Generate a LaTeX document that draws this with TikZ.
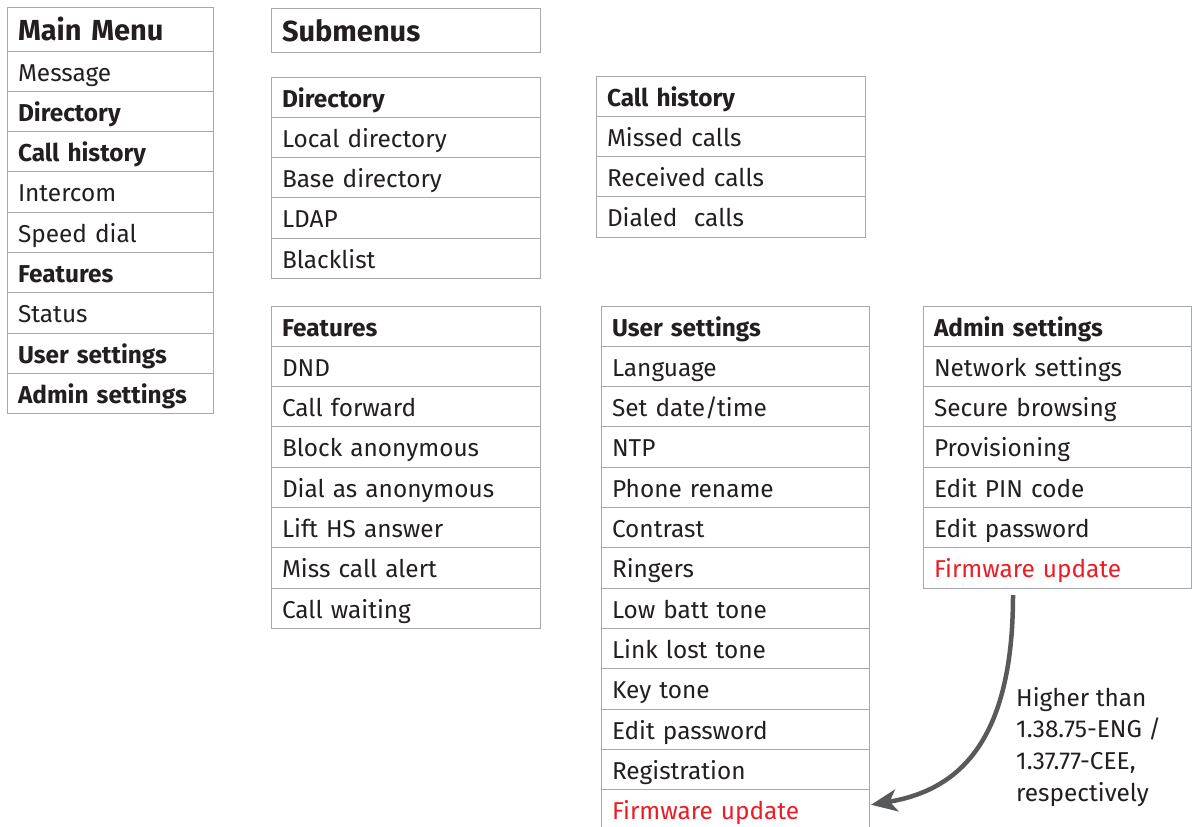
\documentclass[tikz,border=0pt]{standalone}
\usepackage{fontspec}
\setmainfont{Fira Sans}
\usetikzlibrary{arrows.meta, positioning}
\definecolor{inkgray}{HTML}{231F20}
\definecolor{rulegray}{HTML}{A7A9AC}
\definecolor{fwred}{HTML}{ED1C24}
\definecolor{arrowgray}{HTML}{58595B}

\begin{document}
\begin{tikzpicture}[x=1pt, y=-1pt,
  >={Stealth[length=26pt, width=22pt, inset=7pt]},
  cell/.style={draw=rulegray, line width=1pt, anchor=north west, outer sep=0pt, inner xsep=11pt, inner ysep=0pt, text width=247pt, minimum height=40.3pt, text height=24pt, text depth=4.3pt, align=left, font=\fontsize{24.4}{28}\selectfont, text=inkgray},
  narrow/.style={text width=184pt},
  bold/.style={font=\fontsize{24.4}{28}\selectfont\bfseries},
  titlecell/.style={cell, minimum height=44pt, text height=28pt, font=\fontsize{29}{33}\selectfont\bfseries},
  note/.style={font=\fontsize{24.4}{31.6}\selectfont, text=inkgray, align=left, inner sep=0pt},
]

% Frame of the page
\useasboundingbox (0,0) rectangle (1192,827);

% Main menu
\node[titlecell, narrow] (mm) at (7,7) {Main Menu};
\node[cell, narrow, below=0pt of mm] (mm1) {Message};
\node[cell, narrow, bold, below=0pt of mm1] (mm2) {Directory};
\node[cell, narrow, bold, below=0pt of mm2] (mm3) {Call history};
\node[cell, narrow, below=0pt of mm3] (mm4) {Intercom};
\node[cell, narrow, below=0pt of mm4] (mm5) {Speed dial};
\node[cell, narrow, bold, below=0pt of mm5] (mm6) {Features};
\node[cell, narrow, below=0pt of mm6] (mm7) {Status};
\node[cell, narrow, bold, below=0pt of mm7] (mm8) {User settings};
\node[cell, narrow, bold, below=0pt of mm8] (mm9) {Admin settings};

% Submenus title
\node[titlecell] (sub) at (271,8) {Submenus};

% Directory
\node[cell, bold] (dir) at (271,77) {Directory};
\node[cell, below=0pt of dir] (dir1) {Local directory};
\node[cell, below=0pt of dir1] (dir2) {Base directory};
\node[cell, below=0pt of dir2] (dir3) {LDAP};
\node[cell, below=0pt of dir3] (dir4) {Blacklist};

% Call history
\node[cell, bold] (ch) at (596,76) {Call history};
\node[cell, below=0pt of ch] (ch1) {Missed calls};
\node[cell, below=0pt of ch1] (ch2) {Received calls};
\node[cell, below=0pt of ch2] (ch3) {Dialed\ \ calls};

% Features
\node[cell, bold] (ft) at (271,306) {Features};
\node[cell, below=0pt of ft] (ft1) {DND};
\node[cell, below=0pt of ft1] (ft2) {Call forward};
\node[cell, below=0pt of ft2] (ft3) {Block anonymous};
\node[cell, below=0pt of ft3] (ft4) {Dial as anonymous};
\node[cell, below=0pt of ft4] (ft5) {Lift HS answer};
\node[cell, below=0pt of ft5] (ft6) {Miss call alert};
\node[cell, below=0pt of ft6] (ft7) {Call waiting};

% User settings
\node[cell, bold, text width=246pt] (us) at (601,306) {User settings};
\node[cell, text width=246pt, below=0pt of us] (us1) {Language};
\node[cell, text width=246pt, below=0pt of us1] (us2) {Set date/time};
\node[cell, text width=246pt, below=0pt of us2] (us3) {NTP};
\node[cell, text width=246pt, below=0pt of us3] (us4) {Phone rename};
\node[cell, text width=246pt, below=0pt of us4] (us5) {Contrast};
\node[cell, text width=246pt, below=0pt of us5] (us6) {Ringers};
\node[cell, text width=246pt, below=0pt of us6] (us7) {Low batt tone};
\node[cell, text width=246pt, below=0pt of us7] (us8) {Link lost tone};
\node[cell, text width=246pt, below=0pt of us8] (us9) {Key tone};
\node[cell, text width=246pt, below=0pt of us9] (us10) {Edit password};
\node[cell, text width=246pt, below=0pt of us10] (us11) {Registration};
\node[cell, text width=246pt, text=fwred, below=0pt of us11] (us12) {Firmware update};

% Admin settings
\node[cell, bold, text width=246pt] (ad) at (923,306) {Admin settings};
\node[cell, text width=246pt, below=0pt of ad] (ad1) {Network settings};
\node[cell, text width=246pt, below=0pt of ad1] (ad2) {Secure browsing};
\node[cell, text width=246pt, below=0pt of ad2] (ad3) {Provisioning};
\node[cell, text width=246pt, below=0pt of ad3] (ad4) {Edit PIN code};
\node[cell, text width=246pt, below=0pt of ad4] (ad5) {Edit password};
\node[cell, text width=246pt, text=fwred, below=0pt of ad5] (ad6) {Firmware update};

% Firmware arrow and its note
\coordinate (fwsrc) at ([xshift=-44pt, yshift=-7pt]ad6.south);
\draw[arrowgray, line width=4.5pt, ->] (fwsrc) .. controls (1013,740) and (960,790) .. ([xshift=2pt, yshift=5pt]us12.east);
\node[note, anchor=north west] (fwnote) at (1016,687)
  {Higher than\\1.38.75-ENG /\\1.37.77-CEE,\\respectively};

\end{tikzpicture}
\end{document}
